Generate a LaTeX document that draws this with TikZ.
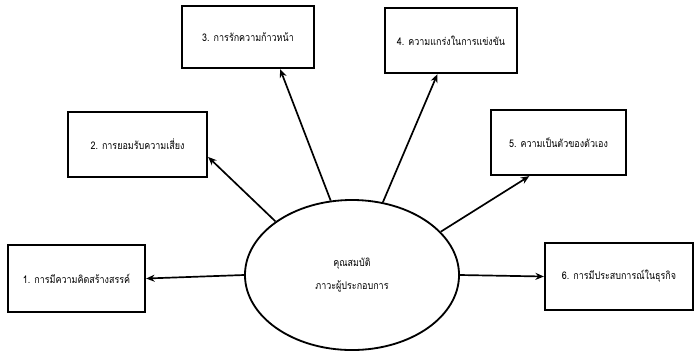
\documentclass[tikz,border=0pt]{standalone}
\usepackage{fontspec}
\newfontfamily\thaifont[Script=Thai,FakeStretch=0.85]{Loma}
\usetikzlibrary{arrows.meta,shapes.geometric}
\begin{document}
\begin{tikzpicture}[x=0.025cm,y=-0.025cm,
  item/.style={draw, line width=1.6pt, fill=white, inner sep=0pt, font=\thaifont\fontsize{7.5}{10}\selectfont},
  link/.style={line width=1.2pt, -{Stealth[length=6pt,width=5pt]}}]
\useasboundingbox (0,0) rectangle (694,357);
\node (core) at (352,275) [ellipse, draw, line width=1.3pt, minimum width=5.35cm, minimum height=3.75cm, align=center, font=\thaifont\fontsize{7.5}{16}\selectfont] {คุณสมบัติ\\ภาวะผู้ประกอบการ};
\node (box1) at (76.5,278.5) [item, minimum width=3.425cm, minimum height=1.675cm] {1. การมีความคิดสร้างสรรค์};
\node (box2) at (137.5,144.5) [item, minimum width=3.475cm, minimum height=1.625cm] {2. การยอมรับความเสี่ยง};
\node (box3) at (248,37) [item, minimum width=3.3cm, minimum height=1.55cm] {3. การรักความก้าวหน้า};
\node (box4) at (451,40.5) [item, minimum width=3.3cm, minimum height=1.625cm] {4. ความแกร่งในการแข่งขัน};
\node (box5) at (558.5,142.5) [item, minimum width=3.375cm, minimum height=1.625cm] {5. ความเป็นตัวของตัวเอง};
\node (box6) at (619,276.5) [item, minimum width=3.7cm, minimum height=1.675cm] {6. การมีประสบการณ์ในธุรกิจ};
\draw [link] (core.west) -- (box1.east);
\draw [link] (core.145.5) -- (box2.-10);
\draw [link] (core.106.8) -- (box3.-45);
\draw [link] (core.67.7) -- (box4.-112);
\draw [link] (core.26.8) -- (box5.-131);
\draw [link] (core.east) -- (box6.west);
\end{tikzpicture}
\end{document}
